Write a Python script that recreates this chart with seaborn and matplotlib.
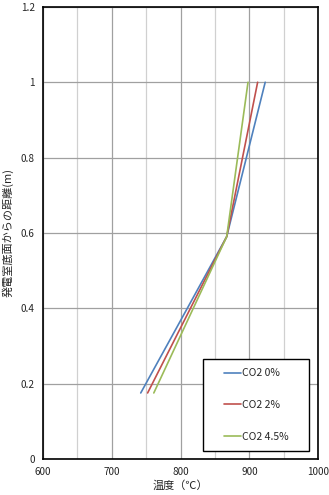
import numpy as np
import pandas as pd
import seaborn as sns
from matplotlib import pyplot as plt
from matplotlib.patches import Rectangle

sns.set_style('white')
plt.rcParams['font.family'] = ['Noto Sans CJK JP', 'DejaVu Sans']

series = ['CO2 0%', 'CO2 2%', 'CO2 4.5%']
height = [0.175, 0.59, 1.0]
temp_0 = [742, 867, 923]
temp_2 = [752, 867, 912]
temp_45 = [761, 867, 898]
colors = ['#4F81BD', '#C0504D', '#9BBB59']

data = pd.DataFrame({
    'temp': temp_0 + temp_2 + temp_45,
    'height': height * 3,
    'series': [s for s in series for _ in height],
})

fig = plt.figure(figsize=(3.29, 4.95), dpi=100)
ax = fig.add_axes([0.131, 0.073, 0.836, 0.913])

sns.lineplot(data=data, x='temp', y='height', hue='series', palette=colors,
             sort=False, linewidth=1.2, ax=ax, estimator=None)

ax.set_xlim(600, 1000)
ax.set_ylim(0, 1.2)
ax.set_xticks([600, 700, 800, 900, 1000])
ax.set_xticks([650, 750, 850, 950], minor=True)
ax.set_yticks([0, 0.2, 0.4, 0.6, 0.8, 1.0, 1.2])
ax.set_yticklabels(['0', '0.2', '0.4', '0.6', '0.8', '1', '1.2'])
ax.grid(True, which='major', color='#a0a0a0', linewidth=0.9)
ax.grid(True, which='minor', axis='x', color='#d0d0d0', linewidth=0.9)
ax.tick_params(axis='both', which='both', length=0, labelsize=7.2, pad=6)
for s in ax.spines.values():
    s.set_color('black')
    s.set_linewidth(1.2)

ax.set_xlabel('温度（℃）', fontsize=8, labelpad=2)
ax.set_ylabel('発電室底面からの距離(m)', fontsize=8, labelpad=5)

# legend with a separate square frame
leg = ax.legend(loc='center', bbox_to_anchor=(0.776, 0.119), fontsize=7.5,
                frameon=False, handlelength=1.6, handletextpad=0.1,
                labelspacing=2.1, borderpad=0)
ax.add_patch(Rectangle((0.583, 0.018), 0.384, 0.203, transform=ax.transAxes,
                       facecolor='white', edgecolor='black', linewidth=1.0,
                       zorder=4))
leg.set_zorder(5)

fig.savefig('out.png', dpi=100)
